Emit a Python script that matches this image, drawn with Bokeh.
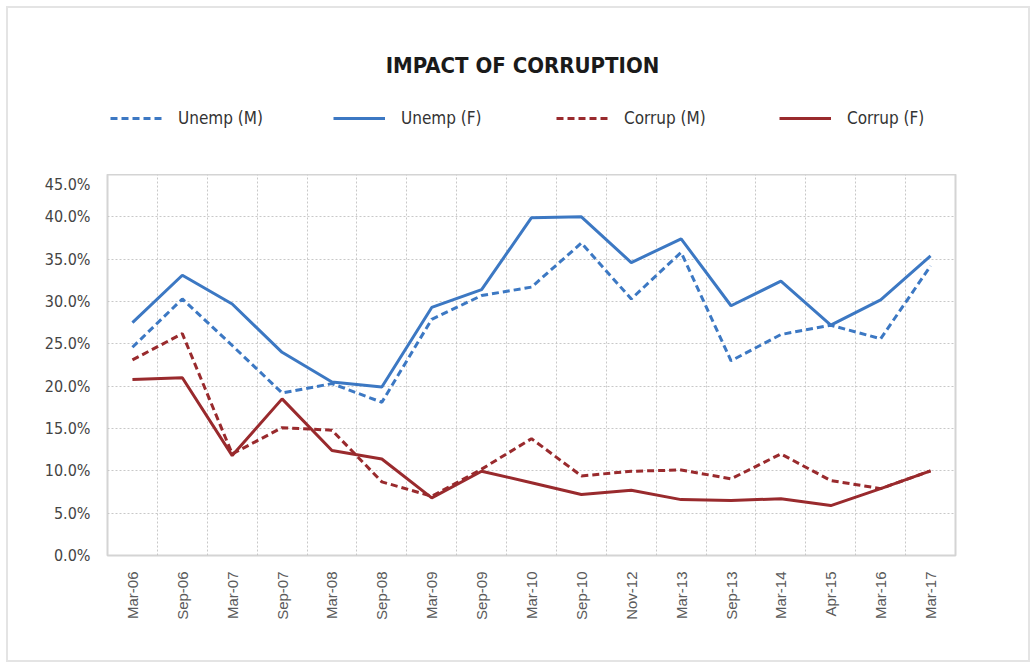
import math
from bokeh.plotting import figure
from bokeh.layouts import column
from bokeh.models import (ColumnDataSource, FixedTicker, PrintfTickFormatter,
                          Legend, LegendItem, Range1d, Label)
from bokeh.embed import file_html
from bokeh.resources import INLINE

categories = ["Mar-06", "Sep-06", "Mar-07", "Sep-07", "Mar-08", "Sep-08",
              "Mar-09", "Sep-09", "Mar-10", "Sep-10", "Nov-12", "Mar-13",
              "Sep-13", "Mar-14", "Apr-15", "Mar-16", "Mar-17"]
unemp_m = [24.6, 30.3, 24.8, 19.2, 20.3, 18.1, 27.9, 30.7, 31.7, 36.9, 30.3,
           35.8, 23.0, 26.1, 27.2, 25.6, 34.2]
unemp_f = [27.5, 33.1, 29.7, 24.0, 20.5, 19.9, 29.3, 31.4, 39.9, 40.0, 34.6,
           37.4, 29.5, 32.4, 27.2, 30.2, 35.4]
corrup_m = [23.1, 26.2, 12.0, 15.1, 14.8, 8.7, 7.0, 10.2, 13.8, 9.4, 9.95,
            10.1, 9.05, 12.0, 8.85, 7.9, 10.0]
corrup_f = [20.8, 21.0, 11.8, 18.5, 12.4, 11.4, 6.8, 9.95, 8.6, 7.2, 7.7,
            6.6, 6.5, 6.7, 5.9, 7.9, 10.0]
series_names = ["Unemp (M)", "Unemp (F)", "Corrup (M)", "Corrup (F)"]
y_ticks = [0, 5, 10, 15, 20, 25, 30, 35, 40, 45]

idx = list(range(len(categories)))
src = ColumnDataSource(dict(x=idx, um=unemp_m, uf=unemp_f, cm=corrup_m, cf=corrup_f))

BLUE = "#3c78c3"
RED = "#992a2d"
COND = "DejaVu Sans Condensed"
W = 1020
TOP_H = 166
BL, BR = 99, 73
FW = W - BL - BR  # frame width in px

styles = [(BLUE, "7 4"), (BLUE, "solid"), (RED, "7 4"), (RED, "solid")]

# ---- header: title + legend (frame aligned with the chart below) ----
top = figure(width=W, height=TOP_H, output_backend="svg", toolbar_location=None,
             x_range=Range1d(0, FW), y_range=Range1d(0, TOP_H),
             min_border_left=BL, min_border_right=BR, min_border_top=0,
             min_border_bottom=0, outline_line_color=None)
top.axis.visible = False
top.grid.visible = False

dummies = []
for color, dash in styles:
    # legend-only renderers, kept outside the visible range
    dummies.append(top.line(x=[-50, -40], y=[-50, -50], color=color,
                            line_width=3, line_dash=dash))

top.add_layout(Label(x=415, y=TOP_H - 57, text="IMPACT OF CORRUPTION",
                     text_align="center", text_baseline="middle",
                     text_font=COND, text_font_size="22px",
                     text_font_style="bold", text_color="#1a1a1a"))

legend = Legend(items=[LegendItem(label=n, renderers=[r])
                       for n, r in zip(series_names, dummies)],
                orientation="horizontal", location=(3, TOP_H - 120),
                glyph_width=52, glyph_height=16, label_standoff=16,
                label_width=140, spacing=15, padding=0, margin=0,
                border_line_color=None, background_fill_alpha=0,
                label_text_font=COND, label_text_font_size="17px",
                label_text_color="#333333")
top.add_layout(legend, "center")

# ---- main chart ----
p = figure(width=W, height=652 - TOP_H, output_backend="svg",
           toolbar_location=None,
           x_range=Range1d(-0.5, len(categories) - 0.5), y_range=Range1d(0, 45),
           min_border_left=BL, min_border_right=BR, min_border_top=0,
           min_border_bottom=105)

for (color, dash), col in zip(styles, ["um", "uf", "cm", "cf"]):
    p.line("x", col, source=src, color=color, line_width=3, line_dash=dash)

p.outline_line_color = "#d4d4d4"
p.outline_line_width = 2

p.xaxis.ticker = FixedTicker(ticks=idx)
p.xaxis.major_label_overrides = {i: c for i, c in zip(idx, categories)}
p.xaxis.major_label_orientation = math.pi / 2
p.xaxis.major_label_text_font = "Liberation Sans"
p.xaxis.major_label_text_font_size = "15px"
p.xaxis.major_label_text_color = "#5a5a5a"
p.xaxis.major_label_standoff = 10

p.yaxis.ticker = FixedTicker(ticks=y_ticks)
p.yaxis.formatter = PrintfTickFormatter(format="%.1f%%")
p.yaxis.major_label_text_font = COND
p.yaxis.major_label_text_font_size = "16px"
p.yaxis.major_label_text_color = "#444444"
p.yaxis.major_label_standoff = 11

for ax in (p.xaxis, p.yaxis):
    ax.axis_line_color = None
    ax.major_tick_line_color = None
    ax.minor_tick_line_color = None

p.xgrid.ticker = FixedTicker(ticks=[i + 0.5 for i in idx[:-1]])
p.xgrid.grid_line_color = "#c8c8c8"
p.xgrid.grid_line_dash = "2 2"
p.ygrid.ticker = FixedTicker(ticks=y_ticks[1:-1])
p.ygrid.grid_line_color = "#c8c8c8"
p.ygrid.grid_line_dash = "2 2"

layout = column(top, p, spacing=0, margin=(6, 0, 0, 6),
                styles={"border": "2px solid #e4e4e4"})

open("out.html", "w").write(file_html(layout, INLINE))
